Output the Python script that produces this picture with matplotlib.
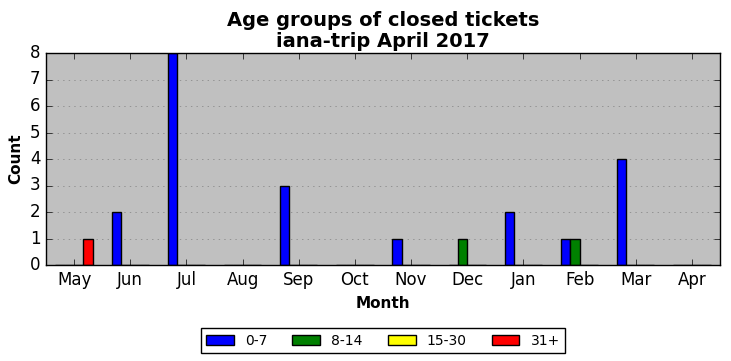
import matplotlib
matplotlib.use("Agg")
import matplotlib.pyplot as plt
import numpy as np

months = ["May", "Jun", "Jul", "Aug", "Sep", "Oct", "Nov", "Dec", "Jan", "Feb", "Mar", "Apr"]
series_names = ["0-7", "8-14", "15-30", "31+"]
s_0_7 = [0, 2, 8, 0, 3, 0, 1, 0, 2, 1, 4, 0]
s_8_14 = [0, 0, 0, 0, 0, 0, 0, 1, 0, 1, 0, 0]
s_15_30 = [0, 0, 0, 0, 0, 0, 0, 0, 0, 0, 0, 0]
s_31p = [1, 0, 0, 0, 0, 0, 0, 0, 0, 0, 0, 0]
colors = ["blue", "green", "yellow", "red"]

plt.style.use("classic")
fig = plt.figure(figsize=(7.31, 3.61), dpi=100, facecolor="white")
ax = fig.add_axes([46/731, 1 - 265/361, (720-46)/731, (265-53)/361])
ax.set_facecolor("#c0c0c0")

x = np.arange(len(months))
w = 1/6
for i, (name, vals, c) in enumerate(zip(series_names, [s_0_7, s_8_14, s_15_30, s_31p], colors)):
    ax.bar(x + (i - 1.5) * w, vals, w, color=c, edgecolor="black", linewidth=1, label=name, align="center")

ax.set_xlim(-0.5, 11.5)
ax.set_ylim(0, 8)
ax.set_xticks(x)
ax.set_xticklabels(months, fontsize=12)
ax.tick_params(axis="y", labelsize=12)
ax.yaxis.grid(True, linestyle=":", color="#808080")
ax.set_axisbelow(True)
ax.set_xlabel("Month", fontsize=11, fontweight="bold")
ax.set_ylabel("Count", fontsize=11, fontweight="bold")
ax.set_title("Age groups of closed tickets\niana-trip April 2017", fontsize=14, fontweight="bold",
             linespacing=1.18, pad=4)
leg = ax.legend(loc="upper center", bbox_to_anchor=(0.5, -0.265), ncol=4, fontsize=10, frameon=True,
                fancybox=False, columnspacing=1.8)
fig.savefig("out.png", dpi=100, facecolor="white")
